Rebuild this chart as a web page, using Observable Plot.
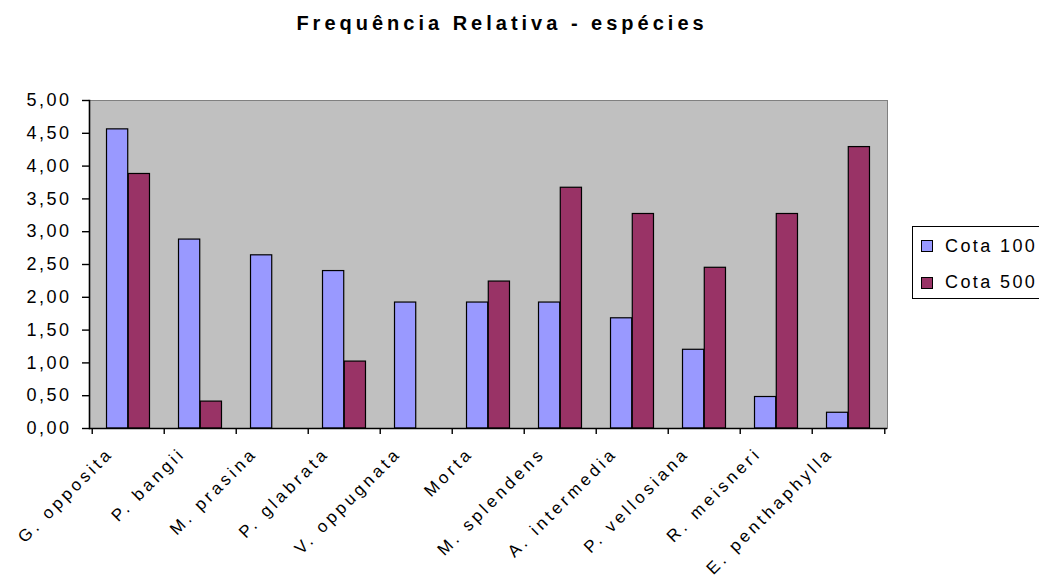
<!DOCTYPE html>
<html>
<head>
<meta charset="utf-8">
<script src="https://cdn.jsdelivr.net/npm/d3@7"></script>
<script src="https://cdn.jsdelivr.net/npm/@observablehq/plot@0.6"></script>
<style>
  html, body { margin: 0; padding: 0; background: #fff; overflow: hidden; }
  #chart { position: relative; width: 1039px; height: 580px; font-family: "Liberation Sans", Arial, sans-serif; color: #000; }
  #title { position: absolute; left: 0; top: 13px; width: 1004px; text-align: center; font-weight: bold; font-size: 20px; line-height: 1; letter-spacing: 4px; }
  #chart svg text { letter-spacing: 2.5px; }
  #chart svg g.rotulos text { letter-spacing: 3.6px; }
  #legend { position: absolute; left: 912px; top: 226px; width: 140px; height: 73px; border: 1px solid #000; box-sizing: border-box; background: #fff; }
  #legend .item { position: absolute; left: 8px; display: flex; align-items: center; height: 20px; font-size: 18px; letter-spacing: 2.4px; white-space: nowrap; }
  #legend .sw { width: 10px; height: 10px; border: 1px solid #000; margin-right: 12px; }
</style>
</head>
<body>
<div id="chart">
  <div id="title">Frequência Relativa - espécies</div>
  <div id="legend"></div>
</div>
<script>
// Espécies e frequência relativa (%) em cada cota
const especies = ["G. opposita", "P. bangii", "M. prasina", "P. glabrata", "V. oppugnata", "Morta",
                  "M. splendens", "A. intermedia", "P. vellosiana", "R. meisneri", "E. penthaphylla"];
const cota100 = [4.56, 2.88, 2.64, 2.40, 1.92, 1.92, 1.92, 1.68, 1.20, 0.48, 0.24];
const cota500 = [3.88, 0.41, 0.00, 1.02, 0.00, 2.24, 3.67, 3.27, 2.45, 3.27, 4.29];
const series = ["Cota 100", "Cota 500"];
const cores = ["#9999ff", "#993366"];
const yTicks = [0, 0.5, 1, 1.5, 2, 2.5, 3, 3.5, 4, 4.5, 5];

const W = 1039, H = 580;
const margins = {top: 100, right: 152, bottom: 152, left: 89};
const step = (W - margins.left - margins.right) / especies.length;

const dados = especies.flatMap((e, i) => [
  {especie: e, serie: series[0], valor: cota100[i]},
  {especie: e, serie: series[1], valor: cota500[i]}
]);

const fmt = d => d.toFixed(2).replace(".", ",");

const chart = Plot.plot({
  width: W,
  height: H,
  marginTop: margins.top,
  marginRight: margins.right,
  marginBottom: margins.bottom,
  marginLeft: margins.left,
  style: {fontFamily: '"Liberation Sans", Arial, sans-serif', fontSize: "18px", color: "#000", background: "transparent"},
  x: {type: "band", domain: especies, padding: 0, label: null},
  y: {domain: [0, 5], label: null},
  color: {domain: series, range: cores},
  marks: [
    Plot.frame({fill: "#c0c0c0", stroke: "#808080"}),
    // barras agrupadas: Cota 100 à esquerda do centro, Cota 500 à direita
    Plot.barY(dados.filter(d => d.serie === series[0] && d.valor > 0), {
      x: "especie", y: "valor", fill: "serie", stroke: "#000", strokeWidth: 1.2,
      insetLeft: step * 0.2, insetRight: step * 0.5
    }),
    Plot.barY(dados.filter(d => d.serie === series[1] && d.valor > 0), {
      x: "especie", y: "valor", fill: "serie", stroke: "#000", strokeWidth: 1.2,
      insetLeft: step * 0.5, insetRight: step * 0.2
    }),
    Plot.frame({anchor: "left", stroke: "#000", strokeWidth: 1.6}),
    Plot.ruleY([0], {stroke: "#000", strokeWidth: 1.6}),
    Plot.axisY({ticks: yTicks, tickFormat: fmt, tickSize: 7, tickPadding: 11, strokeWidth: 1.4, label: null}),
    // marcas de divisão entre categorias
    Plot.axisX({ticks: especies, tickSize: 6, tickFormat: () => "", dx: -step / 2, strokeWidth: 1.4, label: null}),
    Plot.axisX({ticks: especies.slice(-1), tickSize: 6, tickFormat: () => "", dx: step / 2, strokeWidth: 1.4, label: null}),
    Plot.axisX({ticks: especies, tickSize: 0, tickRotate: -45, tickPadding: 8, fontSize: 17, dx: -18, dy: 14,
                label: null, className: "rotulos"})
  ]
});
document.getElementById("chart").prepend(chart);

// legenda
const legend = d3.select("#legend");
series.forEach((s, i) => {
  const item = legend.append("div").attr("class", "item").style("top", `${9 + i * 36.7}px`);
  item.append("div").attr("class", "sw").style("background", cores[i]);
  item.append("span").text(s);
});
</script>
</body>
</html>
